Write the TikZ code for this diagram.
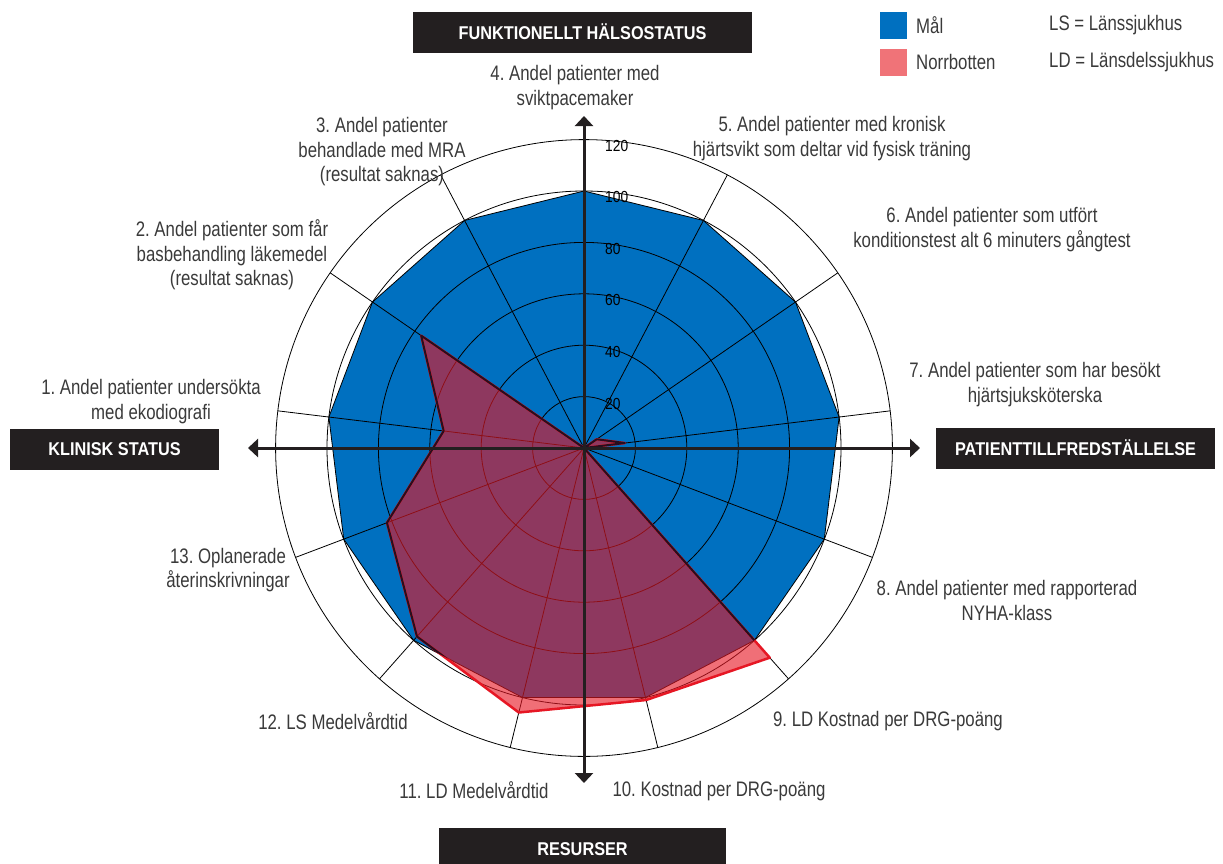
\documentclass[tikz,border=0pt]{standalone}
\usepackage{fontspec}
\setmainfont{Liberation Sans}[FakeStretch=0.8]
\newfontfamily\boxfont{Liberation Sans}[FakeStretch=0.88]
\newfontfamily\numfont{Liberation Sans}[FakeStretch=0.86]
\usetikzlibrary{arrows.meta}
\frenchspacing
\definecolor{malblue}{RGB}{0,112,192}
\definecolor{nbred}{RGB}{230,23,36}
\definecolor{nblegend}{RGB}{240,115,120}
\definecolor{axisdark}{RGB}{35,31,32}
\definecolor{txtgray}{RGB}{58,58,58}
\definecolor{edgedark}{RGB}{40,14,30}
\tikzset{
  lbl/.style={font=\fontsize{21}{24.5}\selectfont, text=txtgray, align=center, inner sep=0pt},
  hdr/.style={fill=axisdark, text=white, font=\boxfont\bfseries\fontsize{18.5}{20}\selectfont,
              inner sep=0pt, text height=13.3pt, text depth=0pt, minimum height=41pt},
  gridline/.style={draw=black, line width=0.8pt},
  axisline/.style={draw=axisdark, line width=3pt, -{Triangle[length=10pt,width=18pt]}},
  scalelbl/.style={font=\numfont\fontsize{16}{17}\selectfont, anchor=west, inner sep=0pt, text=black},
  legtxt/.style={font=\fontsize{21}{24.5}\selectfont, text=txtgray, anchor=west, inner sep=0pt}
}
\begin{document}
\begin{tikzpicture}[x=1pt,y=-1pt]
\path[use as bounding box] (0,0) rectangle (1223,863);
\coordinate (O) at (584,448);
\coordinate (N) at (584,116);
\coordinate (S) at (584,783);
\coordinate (W) at (248,448);
\coordinate (E) at (920,448);

\begin{scope}[shift={(584,448)}]
  % target polygon (100 on every spoke)
  \path[fill=malblue, draw=black, line width=0.8pt, line join=round]
    (-173.077:257) \foreach \k in {2,...,13} { -- ({-90+(\k-4)*360/13}:257) } -- cycle;
  % grid circles
  \foreach \v in {20,40,...,120}
    \draw[gridline] (0,0) circle[radius={\v*2.57}];
  % spokes
  \foreach \k in {1,...,13}
    \draw[gridline] (0,0) -- ({-90+(\k-4)*360/13}:308.4);
  % Norrbotten polygon
  \path[fill=nbred, fill opacity=0.62, draw=nbred, line width=2.5pt, line join=round]
    (-173.077:{55*2.57}) \foreach \k/\v in {2/77,3/0,4/0,5/0,6/6,7/16,8/0,9/109,10/101,11/106,12/98,13/82}
      { -- ({-90+(\k-4)*360/13}:{\v*2.57}) } -- cycle;
  \begin{scope}
    \clip (-173.077:257) \foreach \k in {2,...,13} { -- ({-90+(\k-4)*360/13}:257) } -- cycle;
    \path[draw=edgedark, line width=2pt, line join=round]
      (-173.077:{55*2.57}) \foreach \k/\v in {2/77,3/0,4/0,5/0,6/6,7/16,8/0,9/109,10/101,11/106,12/98,13/82}
        { -- ({-90+(\k-4)*360/13}:{\v*2.57}) } -- cycle;
  \end{scope}
\end{scope}

% axes
\draw[axisline] (O) -- (N);
\draw[axisline] (O) -- (S);
\draw[axisline] (O) -- (W);
\draw[axisline] (O) -- (E);

% scale labels
\node[scalelbl] (s120) at (605,145.5) {120};
\node[scalelbl] (s100) at (605,197) {100};
\node[scalelbl] (s80) at (605,248.5) {80};
\node[scalelbl] (s60) at (605,300.3) {60};
\node[scalelbl] (s40) at (605,351.6) {40};
\node[scalelbl] (s20) at (605,403.5) {20};

% headers
\node[hdr, minimum width=339pt] (hfun) at (582.5,32.5) {FUNKTIONELLT HÄLSOSTATUS};
\node[hdr, minimum width=209pt] (hkli) at (114.5,449) {KLINISK STATUS};
\node[hdr, minimum width=279pt] (hpat) at (1075.5,448.5) {PATIENTTILLFREDSTÄLLELSE};
\node[hdr, minimum width=287pt] (hres) at (582.5,848.5) {RESURSER};

% spoke labels
\node[lbl] (l4) at (575,87.5) {4. Andel patienter med\\sviktpacemaker};
\node[lbl] (l3) at (382,152) {3. Andel patienter\\behandlade med MRA\\(resultat saknas)};
\node[lbl] (l5) at (832,138.5) {5. Andel patienter med kronisk\\hjärtsvikt som deltar vid fysisk träning};
\node[lbl] (l6) at (992,229.5) {6. Andel patienter som utfört\\konditionstest alt 6 minuters gångtest};
\node[lbl] (l7) at (1035,384.5) {7. Andel patienter som har besökt\\hjärtsjuksköterska};
\node[lbl] (l8) at (1007,600.5) {8. Andel patienter med rapporterad\\NYHA-klass};
\node[lbl] (l9) at (888,721) {9. LD Kostnad per DRG-poäng};
\node[lbl] (l10) at (719,791) {10. Kostnad per DRG-poäng};
\node[lbl] (l11) at (474,790) {11. LD Medelvårdtid};
\node[lbl] (l12) at (333,721) {12. LS Medelvårdtid};
\node[lbl] (l13) at (228,570) {13. Oplanerade\\återinskrivningar};
\node[lbl] (l1) at (151,401.5) {1. Andel patienter undersökta\\med ekodiografi};
\node[lbl] (l2) at (232,255) {2. Andel patienter som får\\basbehandling läkemedel\\(resultat saknas)};

% legend
\fill[malblue] (880,12) rectangle (907,39);
\fill[nblegend] (880,49) rectangle (907,76);
\node[legtxt] (gmal) at (916,25) {Mål};
\node[legtxt] (gnor) at (916,62) {Norrbotten};
\node[legtxt] (gls) at (1049,25) {LS = Länssjukhus};
\node[legtxt] (gld) at (1049,62) {LD = Länsdelssjukhus};
\end{tikzpicture}
\end{document}
